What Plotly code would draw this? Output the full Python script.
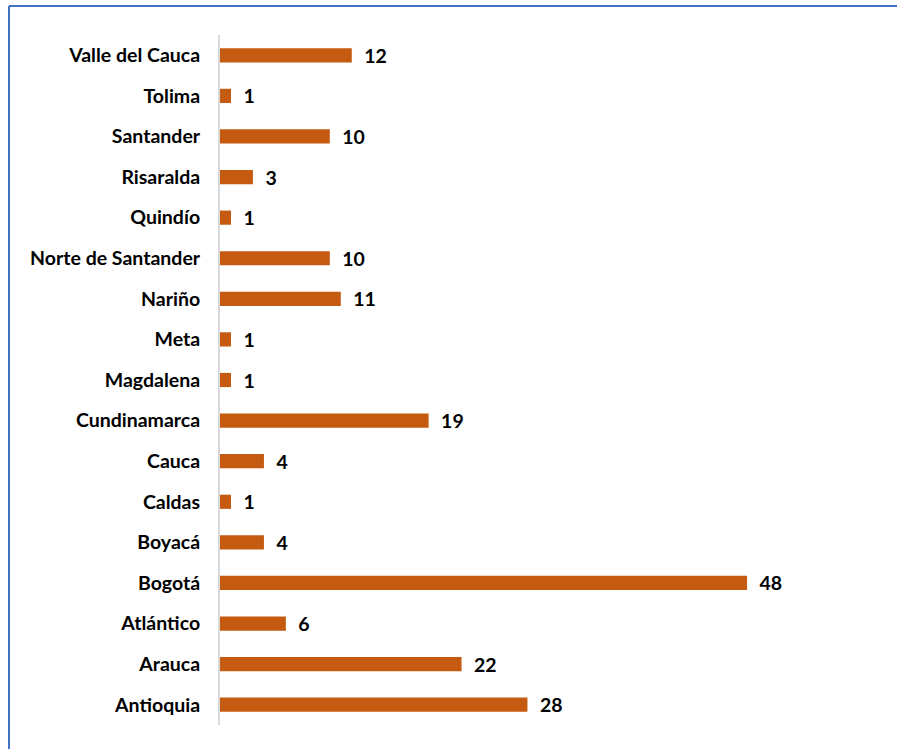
import plotly.graph_objects as go

departamentos = ["Antioquia", "Arauca", "Atlántico", "Bogotá", "Boyacá", "Caldas", "Cauca",
                 "Cundinamarca", "Magdalena", "Meta", "Nariño", "Norte de Santander",
                 "Quindío", "Risaralda", "Santander", "Tolima", "Valle del Cauca"]
valores = [28, 22, 6, 48, 4, 1, 4, 19, 1, 1, 11, 10, 1, 3, 10, 1, 12]

W, H = 897, 749
L, R, T, B = 220, 37, 35, 24
pw, ph = W - L - R, H - T - B
FONT = "Lato"
FS = 19.5

fig = go.Figure(go.Bar(
    y=departamentos, x=valores, orientation="h",
    marker=dict(color="#C55A11", line=dict(width=0)),
    text=valores, texttemplate="\u00a0\u00a0%{x}", textposition="outside",
    constraintext="none",
    textfont=dict(family=FONT, size=FS, color="black", weight="bold"),
    cliponaxis=False, width=0.35,
))

def px(x):
    return (x - L) / pw

def py(y):
    return 1 - (y - T) / ph

border = dict(color="#4472C4", width=2)
fig.add_shape(type="line", xref="paper", yref="paper",
              x0=px(9), x1=px(910), y0=py(6), y1=py(6), line=border)
fig.add_shape(type="line", xref="paper", yref="paper",
              x0=px(9), x1=px(9), y0=py(6), y1=py(770), line=border)

fig.update_layout(
    width=W, height=H, margin=dict(l=L, r=R, t=T, b=B),
    paper_bgcolor="white", plot_bgcolor="white", showlegend=False,
    font=dict(family=FONT, size=FS, color="black"),
    xaxis=dict(range=[0, pw / 10.98], visible=False, showgrid=False, zeroline=False),
    yaxis=dict(showline=True, linecolor="#D9D9D9", linewidth=2, ticks="",
               ticklabelstandoff=14, showgrid=False,
               tickfont=dict(family=FONT, size=FS, color="black", weight="bold")),
)

fig.write_html("out.html", config={"displayModeBar": False},
               post_script="document.body.style.margin='0';document.body.style.overflow='hidden';")
